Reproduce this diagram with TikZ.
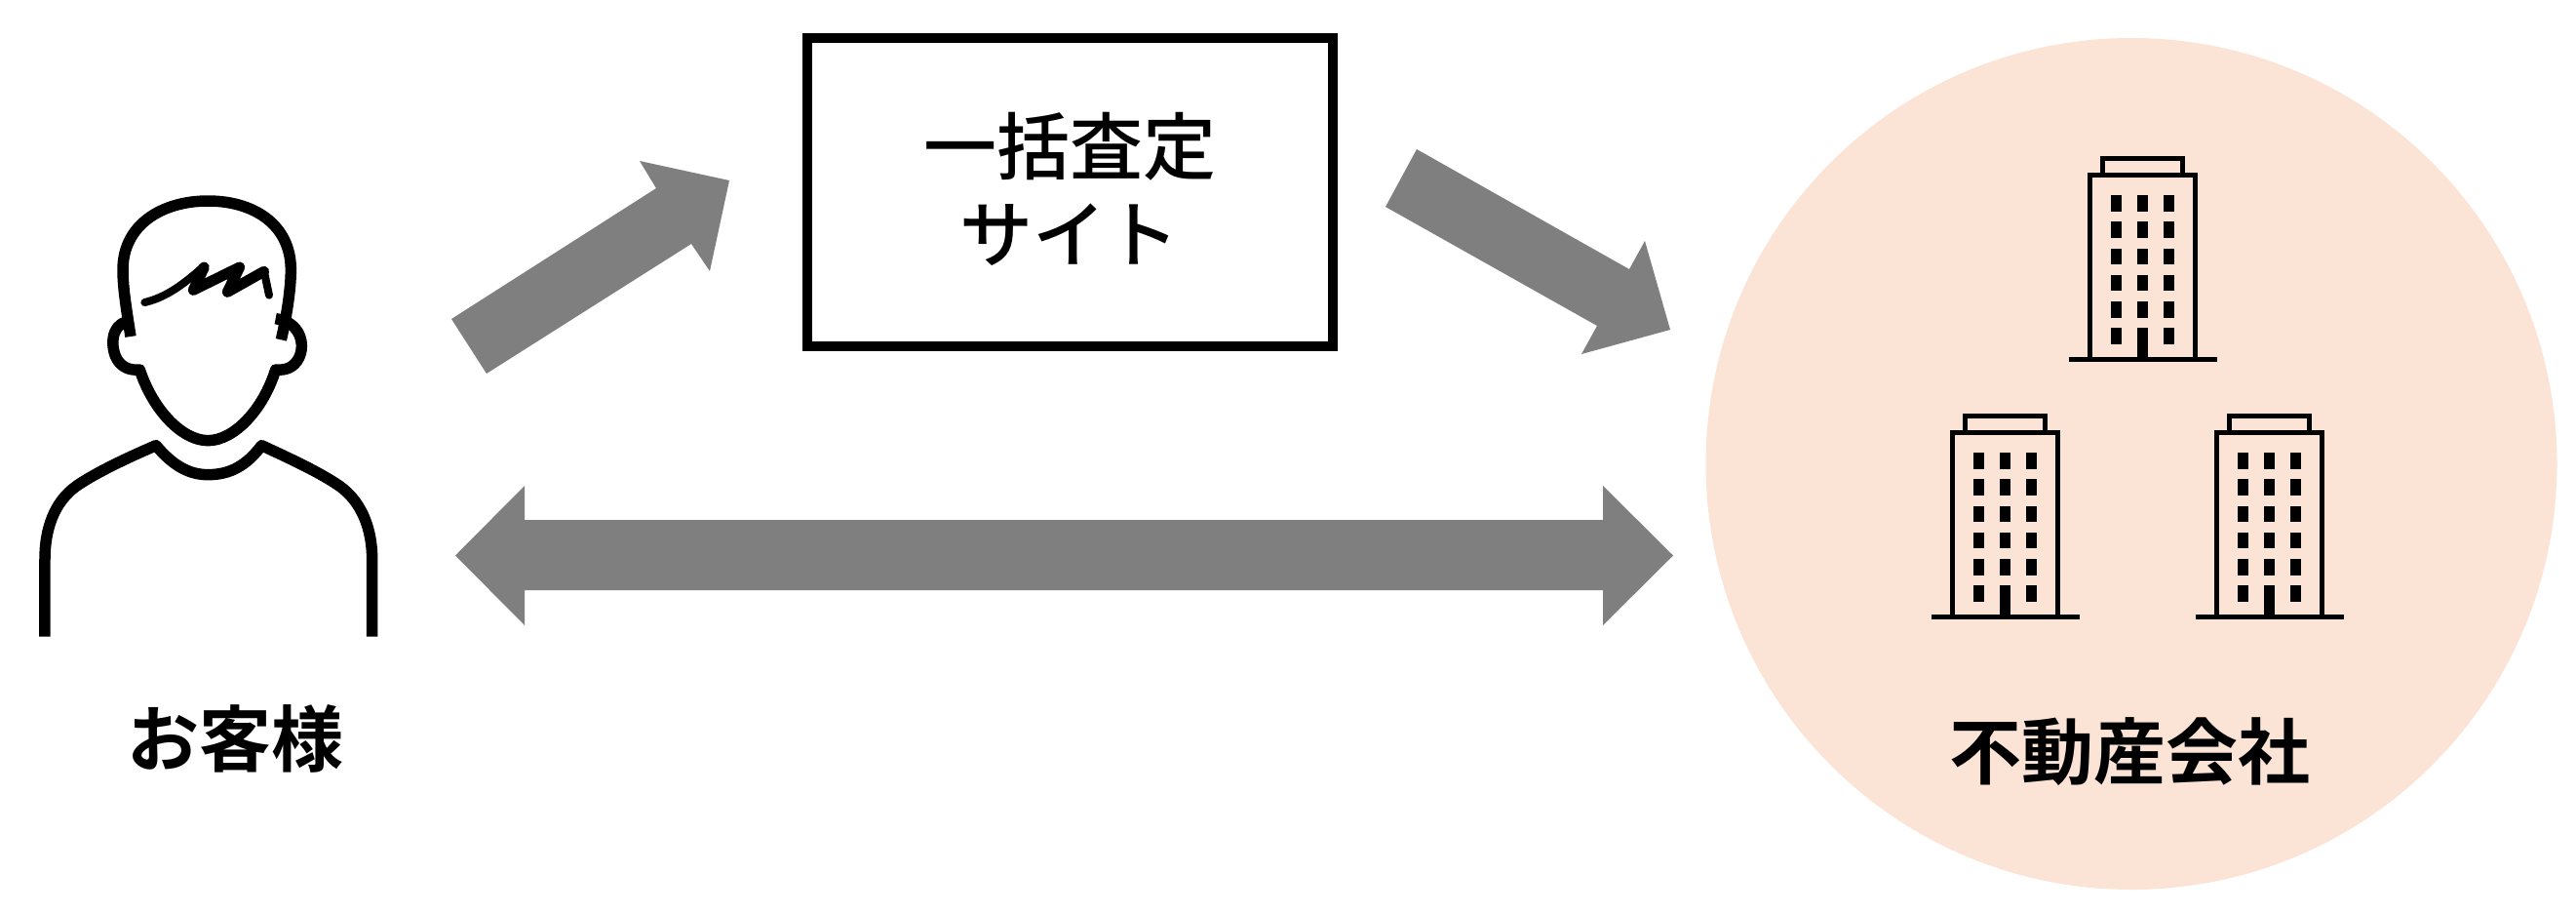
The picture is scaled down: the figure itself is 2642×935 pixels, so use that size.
\documentclass[tikz,border=0pt]{standalone}
\usepackage{fontspec}
\setmainfont{Noto Sans CJK JP}[BoldFont={Noto Sans CJK JP Bold}]
\newfontfamily\cjkmedium{Noto Sans CJK JP Medium}
\tikzset{
  arrowfill/.style={fill=arrowgray,draw=none},
  labeltext/.style={font=\bfseries\fontsize{74}{88}\selectfont,text=black,inner sep=0pt,align=center},
  sitetext/.style={font=\cjkmedium\fontsize{75}{90}\selectfont,text=black,inner sep=0pt,align=center},
  personline/.style={draw=black,line width=11.5pt,line cap=butt,line join=round},
  hairline/.style={draw=black,line width=8pt,line cap=round,line join=round},
  bline/.style={draw=black,line width=5pt},
  win/.style={fill=black,draw=none}
}
\definecolor{arrowgray}{HTML}{7F7F7F}
\definecolor{circlefill}{HTML}{FBE3D6}
\newcommand{\buildingat}[2]{%
  \begin{scope}[shift={(#1,#2)}]
    \draw[bline] (2156.8,176.7) -- (2156.8,162.5) -- (2238.5,162.5) -- (2238.5,176.7);
    \draw[bline] (2143.5,368) -- (2143.5,179.2) -- (2251.8,179.2) -- (2251.8,368);
    \draw[bline] (2122,368.3) -- (2273.7,368.3);
    \foreach \c in {0,1,2}{\foreach \r in {0,...,5}{
      \fill[win] ({2165.3+27*\c},{200.3+27.13*\r}) rectangle ++(11,16.7);
    }}
    \fill[win] (2192.3,336) rectangle (2203.3,368);
  \end{scope}}
\begin{document}
\begin{tikzpicture}[x=1pt,y=-1pt]
\useasboundingbox (0,0) rectangle (2642,935);
\fill[white] (0,0) rectangle (2642,935);
\node[circle,fill=circlefill,draw=none,minimum size=873pt,inner sep=0pt] (company) at (2186,475.5) {};
\buildingat{0}{0}
\buildingat{-141}{264}
\buildingat{130}{264}
\node[draw=black,line width=10pt,minimum width=539pt,minimum height=316pt,inner sep=0pt] (site) at (1097.5,197) {};
\node[sitetext] (sitelabel) at (1097,194) {一括査定\\サイト};
\node[labeltext] (customer) at (241,757) {お客様};
\node[labeltext] (companylabel) at (2184,771) {不動産会社};
\fill[arrowfill] (463,327) -- (673,193) -- (656,165) -- (748,185) -- (728,278) -- (709,250) -- (499,383) -- cycle;
\fill[arrowfill] (1453,153) -- (1671,276) -- (1687,247) -- (1713,338) -- (1622,363) -- (1638,334) -- (1421,212) -- cycle;
\fill[arrowfill] (467,569.5) -- (538,498) -- (538,533) -- (1644,533) -- (1644,498) -- (1716,569.5) -- (1644,641) -- (1644,605) -- (538,605) -- (538,641) -- cycle;
\begin{scope}[x=0.33333pt,y=-0.33333pt,shift={(0,540)}]
\path[personline] (402,495) .. controls (392,430) and (378,350) .. (378,290) .. controls (378,150) and (500,78) .. (640,78) .. controls (780,78) and (895,150) .. (895,290) .. controls (895,340) and (885,420) .. (865,505);
\path[personline] (390,450) .. controls (340,460) and (340,530) .. (360,565) .. controls (375,590) and (400,600) .. (430,597) .. controls (470,720) and (560,815) .. (640,815) .. controls (720,815) and (810,720) .. (848,597) .. controls (880,600) and (905,590) .. (920,560) .. controls (940,520) and (925,450) .. (848,440);
\path[personline] (138,1418) -- (138,1180) .. controls (138,1090) and (165,1005) .. (235,955) .. controls (300,910) and (410,860) .. (480,830) .. controls (530,890) and (580,920) .. (640,920) .. controls (710,920) and (760,890) .. (805,830) .. controls (880,865) and (980,910) .. (1045,955) .. controls (1115,1005) and (1145,1090) .. (1145,1180) -- (1145,1418);
\path[hairline] (445,390) .. controls (510,375) and (565,335) .. (628,278);
\path[hairline,line width=11pt] (628,282) -- (595,352) -- (737,282) -- (700,358) -- (812,295);
\path[hairline,line width=8pt] (812,292) -- (828,368);
\end{scope}
\end{tikzpicture}
\end{document}
